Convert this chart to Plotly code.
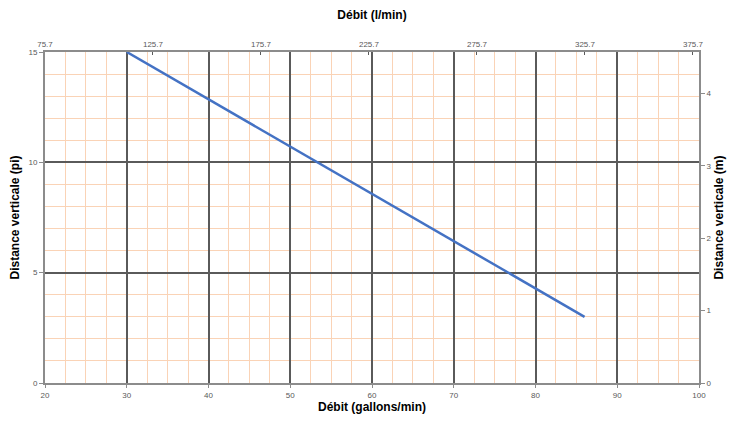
import plotly.graph_objects as go

# Data
flow_gpm = [30, 86]
height_ft = [15, 3]

gpm_range = [20, 100]
ft_range = [0, 15]
lpm_per_gpm = 3.785
m_per_ft = 0.3048

bottom_ticks = [20, 30, 40, 50, 60, 70, 80, 90, 100]
left_ticks = [0, 5, 10, 15]
top_ticks = [75.7, 125.7, 175.7, 225.7, 275.7, 325.7, 375.7]
top_tick_text = ["75.7", "125.7", "175.7", "225.7", "275.7", "325.7", "375.7"]
right_ticks = [0, 1, 2, 3, 4]

flow_lpm = [v * lpm_per_gpm for v in flow_gpm]
height_m = [v * m_per_ft for v in height_ft]

minor_x = [20 + 2.5 * i for i in range(33) if i % 4 != 0]
minor_y = [i for i in range(16) if i % 5 != 0]

tick_font = dict(family="Liberation Sans, Arial", size=8, color="#595959")
title_font = dict(family="Liberation Sans, Arial", size=12, color="#000000")

fig = go.Figure()
fig.add_trace(go.Scatter(x=flow_gpm, y=height_ft, mode="lines",
                         line=dict(color="#4472C4", width=2.5),
                         showlegend=False, hoverinfo="skip"))
fig.add_trace(go.Scatter(x=flow_lpm, y=height_m, mode="lines",
                         line=dict(color="rgba(0,0,0,0)", width=0),
                         xaxis="x2", yaxis="y2", showlegend=False, hoverinfo="skip"))

fig.update_layout(
    width=728, height=415,
    margin=dict(l=37, r=37, t=44, b=40),
    paper_bgcolor="white", plot_bgcolor="white",
    xaxis=dict(range=gpm_range, tickvals=bottom_ticks, tickfont=tick_font, automargin=False,
               showgrid=True, gridcolor="#5a5a5a", gridwidth=2,
               minor=dict(tickvals=minor_x, showgrid=True, gridcolor="#FAD3B6", gridwidth=1, ticks=""),
               showline=True, linecolor="#8c8c8c", linewidth=2, mirror=False,
               ticks="outside", ticklen=3, tickcolor="#8c8c8c", zeroline=False,
               title=dict(text="<b>Débit (gallons/min)</b>", font=title_font, standoff=0)),
    yaxis=dict(range=ft_range, tickvals=left_ticks, tickfont=tick_font, automargin=False,
               showgrid=True, gridcolor="#5a5a5a", gridwidth=2,
               minor=dict(tickvals=minor_y, showgrid=True, gridcolor="#FAD3B6", gridwidth=1, ticks=""),
               showline=True, linecolor="#8c8c8c", linewidth=2,
               ticks="outside", ticklen=4, tickcolor="#8c8c8c", zeroline=False,
               title=dict(text="<b>Distance verticale (pi)</b>", font=title_font, standoff=12)),
    xaxis2=dict(range=[gpm_range[0] * lpm_per_gpm, gpm_range[1] * lpm_per_gpm], automargin=False,
                overlaying="x", side="top", tickvals=top_ticks, ticktext=top_tick_text,
                tickfont=tick_font, showgrid=False, zeroline=False,
                showline=True, linecolor="#8c8c8c", linewidth=2,
                ticks="inside", ticklen=3, tickcolor="#595959",
                title=dict(text="<b>Débit (l/min)</b>", font=title_font, standoff=18)),
    yaxis2=dict(range=[ft_range[0] * m_per_ft, ft_range[1] * m_per_ft], automargin=False,
                overlaying="y", side="right", tickvals=right_ticks,
                tickfont=tick_font, showgrid=False, zeroline=False,
                showline=True, linecolor="#8c8c8c", linewidth=2,
                ticks="outside", ticklen=4, tickcolor="#8c8c8c",
                title=dict(text="<b>Distance verticale (m)</b>", font=title_font, standoff=2)),
)

fig.write_html("out.html")
